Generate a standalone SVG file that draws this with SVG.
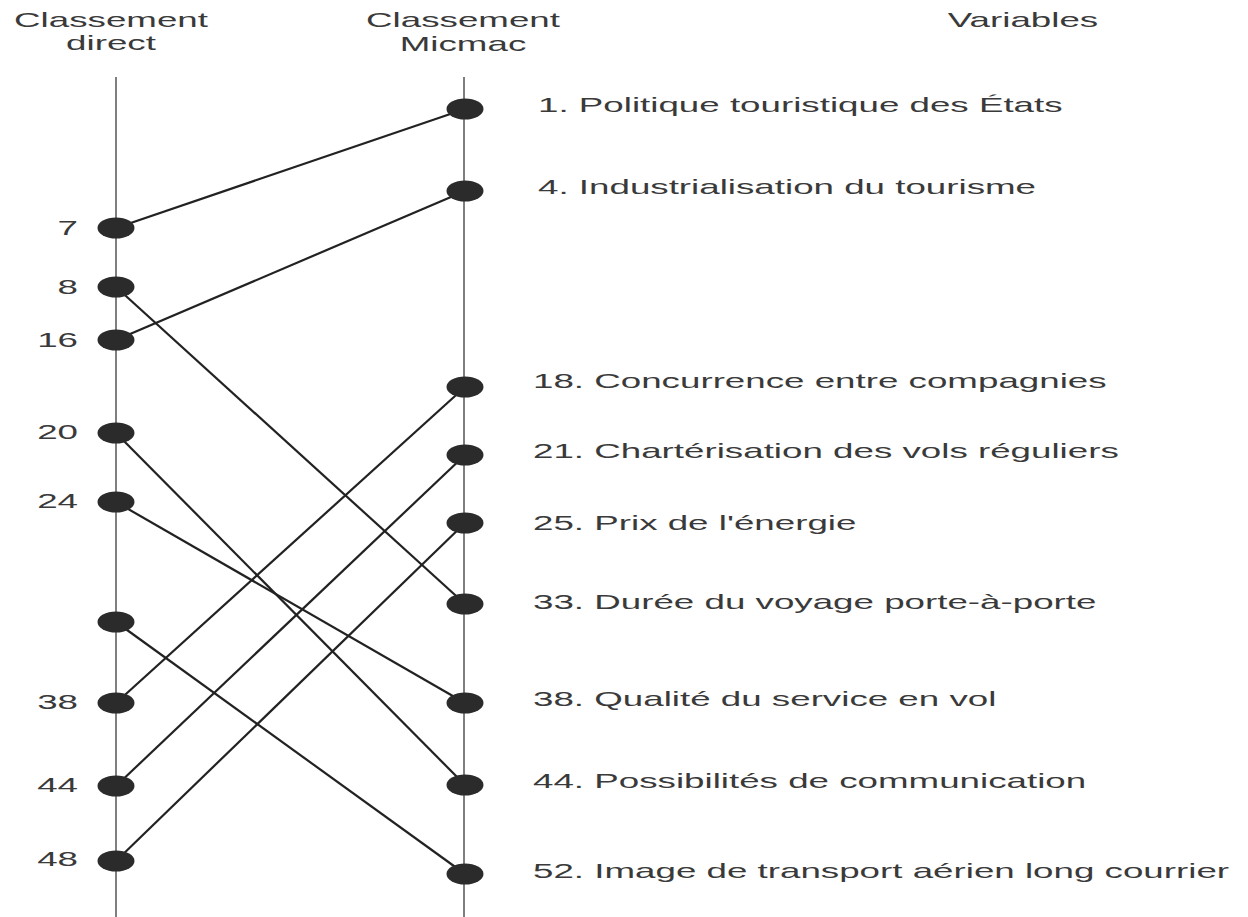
<svg xmlns="http://www.w3.org/2000/svg" width="1248" height="917" viewBox="0 0 1248 917">
<style>
text{font-family:"Liberation Sans",Arial,sans-serif;font-size:21px;fill:#3a3a3a}
.mid{text-anchor:middle}
.end{text-anchor:end}
.axis{stroke:#555;stroke-width:1.5;fill:none}
.conn{stroke:#222;stroke-width:2.2;fill:none}
.dot{fill:#2b2b2b}
</style>
<rect width="1248" height="917" fill="#fff"/>
<g id="headers">
<text class="mid" transform="translate(111,27) scale(1.75,1)">Classement</text>
<text class="mid" transform="translate(111,50) scale(1.75,1)">direct</text>
<text class="mid" transform="translate(463,27) scale(1.75,1)">Classement</text>
<text class="mid" transform="translate(463,51) scale(1.75,1)">Micmac</text>
<text class="mid" transform="translate(1023,27) scale(1.75,1)">Variables</text>
</g>
<g id="axes">
<line class="axis" x1="116" y1="77" x2="116" y2="917"/>
<line class="axis" x1="464" y1="77" x2="464" y2="917"/>
</g>
<g id="connectors">
<line class="conn" x1="116" y1="228" x2="465" y2="109"/>
<line class="conn" x1="116" y1="340" x2="465" y2="191"/>
<line class="conn" x1="116" y1="287" x2="465" y2="604"/>
<line class="conn" x1="116" y1="433" x2="465" y2="785"/>
<line class="conn" x1="116" y1="502" x2="465" y2="703"/>
<line class="conn" x1="116" y1="622" x2="465" y2="874"/>
<line class="conn" x1="116" y1="703" x2="465" y2="387"/>
<line class="conn" x1="116" y1="786" x2="465" y2="455"/>
<line class="conn" x1="116" y1="861" x2="465" y2="523"/>
</g>
<g id="left-7"><ellipse class="dot" cx="116" cy="228" rx="18.5" ry="10.5"/><text class="end" transform="translate(78,235) scale(1.75,1)">7</text></g>
<g id="left-8"><ellipse class="dot" cx="116" cy="287" rx="18.5" ry="10.5"/><text class="end" transform="translate(78,294) scale(1.75,1)">8</text></g>
<g id="left-16"><ellipse class="dot" cx="116" cy="340" rx="18.5" ry="10.5"/><text class="end" transform="translate(78,347) scale(1.75,1)">16</text></g>
<g id="left-20"><ellipse class="dot" cx="116" cy="433" rx="18.5" ry="10.5"/><text class="end" transform="translate(78,439) scale(1.75,1)">20</text></g>
<g id="left-24"><ellipse class="dot" cx="116" cy="502" rx="18.5" ry="10.5"/><text class="end" transform="translate(78,508) scale(1.75,1)">24</text></g>
<g id="left-x"><ellipse class="dot" cx="116" cy="622" rx="18.5" ry="10.5"/></g>
<g id="left-38"><ellipse class="dot" cx="116" cy="703" rx="18.5" ry="10.5"/><text class="end" transform="translate(78,709) scale(1.75,1)">38</text></g>
<g id="left-44"><ellipse class="dot" cx="116" cy="786" rx="18.5" ry="10.5"/><text class="end" transform="translate(78,792) scale(1.75,1)">44</text></g>
<g id="left-48"><ellipse class="dot" cx="116" cy="861" rx="18.5" ry="10.5"/><text class="end" transform="translate(78,866) scale(1.75,1)">48</text></g>
<g id="var-1"><ellipse class="dot" cx="465" cy="109" rx="18.5" ry="10.5"/><text transform="translate(538,112) scale(1.75,1)">1. Politique touristique des États</text></g>
<g id="var-4"><ellipse class="dot" cx="465" cy="191" rx="18.5" ry="10.5"/><text transform="translate(538,194) scale(1.75,1)">4. Industrialisation du tourisme</text></g>
<g id="var-18"><ellipse class="dot" cx="465" cy="387" rx="18.5" ry="10.5"/><text transform="translate(533,388) scale(1.75,1)">18. Concurrence entre compagnies</text></g>
<g id="var-21"><ellipse class="dot" cx="465" cy="455" rx="18.5" ry="10.5"/><text transform="translate(533,458) scale(1.75,1)">21. Chartérisation des vols réguliers</text></g>
<g id="var-25"><ellipse class="dot" cx="465" cy="523" rx="18.5" ry="10.5"/><text transform="translate(533,530) scale(1.75,1)">25. Prix de l'énergie</text></g>
<g id="var-33"><ellipse class="dot" cx="465" cy="604" rx="18.5" ry="10.5"/><text transform="translate(533,609) scale(1.75,1)">33. Durée du voyage porte-à-porte</text></g>
<g id="var-38"><ellipse class="dot" cx="465" cy="703" rx="18.5" ry="10.5"/><text transform="translate(533,706) scale(1.75,1)">38. Qualité du service en vol</text></g>
<g id="var-44"><ellipse class="dot" cx="465" cy="785" rx="18.5" ry="10.5"/><text transform="translate(533,788) scale(1.75,1)">44. Possibilités de communication</text></g>
<g id="var-52"><ellipse class="dot" cx="465" cy="874" rx="18.5" ry="10.5"/><text transform="translate(533,878) scale(1.75,1)">52. Image de transport aérien long courrier</text></g>
</svg>
